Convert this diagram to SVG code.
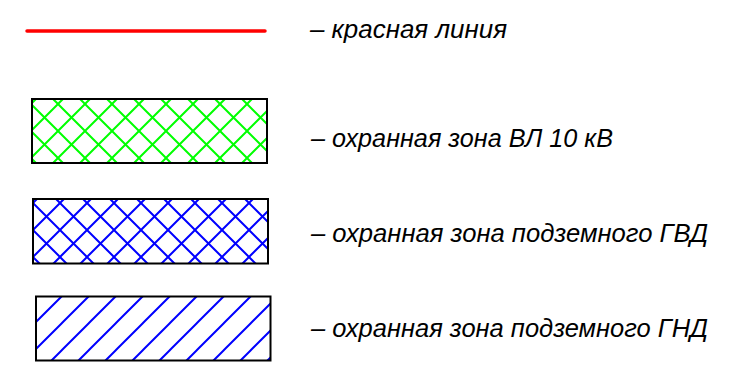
<svg xmlns="http://www.w3.org/2000/svg" width="732" height="372" viewBox="0 0 732 372">
  <style>
    .lbl { font-family: "Liberation Sans", "DejaVu Sans", sans-serif; font-style: italic; font-size: 25px; fill: #000; }
    .box { stroke: #000; stroke-width: 2; }
    .hg { stroke: #00ff00; stroke-width: 2; fill: none; }
    .hb { stroke: #0000ff; stroke-width: 2; fill: none; }
  </style>
  <defs>
    <pattern id="crossGreen" patternUnits="userSpaceOnUse" x="31" y="104" width="27" height="27">
      <path class="hg" d="M-5,-5 L32,32 M-5,32 L32,-5 M-5,22 L5,32 M22,-5 L32,5 M-5,5 L5,-5 M22,32 L32,22"/>
    </pattern>
    <pattern id="crossBlue" patternUnits="userSpaceOnUse" x="33" y="203" width="27" height="27">
      <path class="hb" d="M-5,-5 L32,32 M-5,32 L32,-5 M-5,22 L5,32 M22,-5 L32,5 M-5,5 L5,-5 M22,32 L32,22"/>
    </pattern>
    <pattern id="diagBlue" patternUnits="userSpaceOnUse" x="35" y="296" width="27" height="27">
      <path class="hb" d="M-5,32 L32,-5 M-5,5 L5,-5 M22,32 L32,22"/>
    </pattern>
  </defs>

  <g id="red-line-item">
    <line x1="27" y1="31" x2="265" y2="31" stroke="#ff0000" stroke-width="3.5" stroke-linecap="round"/>
    <text class="lbl" x="310" y="38" textLength="197" lengthAdjust="spacingAndGlyphs">– красная линия</text>
  </g>

  <g id="vl-zone-item">
    <rect class="box" x="32" y="99" width="235" height="64" fill="url(#crossGreen)"/>
    <text class="lbl" x="311" y="146.5" textLength="302" lengthAdjust="spacingAndGlyphs">– охранная зона ВЛ 10 кВ</text>
  </g>

  <g id="gvd-zone-item">
    <rect class="box" x="33" y="199" width="235" height="64.5" fill="url(#crossBlue)"/>
    <text class="lbl" x="311" y="242" textLength="397" lengthAdjust="spacingAndGlyphs">– охранная зона подземного ГВД</text>
  </g>

  <g id="gnd-zone-item">
    <rect class="box" x="36" y="296.5" width="234.5" height="64" fill="url(#diagBlue)"/>
    <text class="lbl" x="311" y="336.5" textLength="397" lengthAdjust="spacingAndGlyphs">– охранная зона подземного ГНД</text>
  </g>

  <g id="connectors"></g>
</svg>
